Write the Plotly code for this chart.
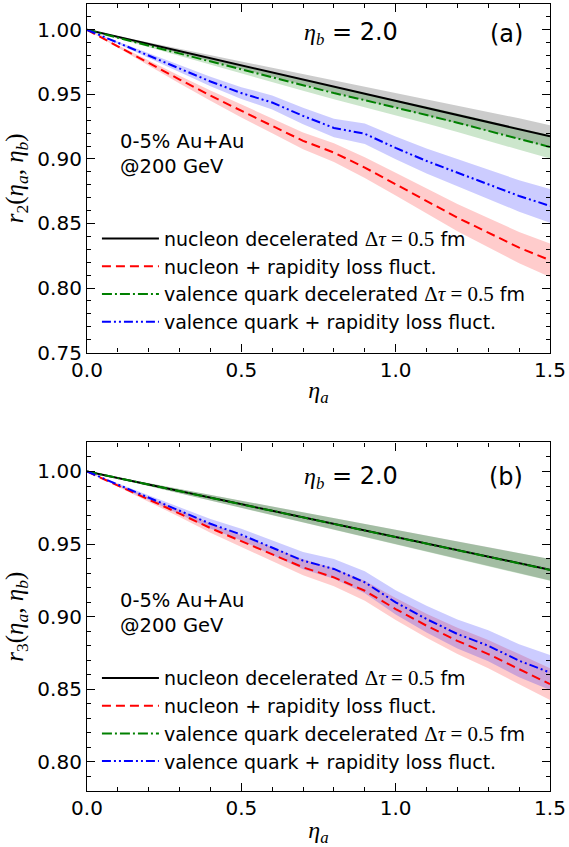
import plotly.graph_objects as go

# pseudorapidity of the reference bin
eta_a = [0.0, 0.1, 0.2, 0.3, 0.4, 0.5, 0.6, 0.7, 0.8, 0.9, 1.0, 1.1, 1.2, 1.3, 1.4, 1.5]

# ---- (a) r2(eta_a, eta_b) ----
r2_nucleon = [1.000, 0.9945, 0.9890, 0.9835, 0.9780, 0.9725, 0.9670, 0.9615, 0.9560, 0.9505, 0.9455, 0.9400, 0.9345, 0.9290, 0.9235, 0.9175]
r2_nucleon_err = [0.0, 0.0006, 0.0012, 0.0017, 0.0023, 0.0029, 0.0035, 0.0040, 0.0046, 0.0052, 0.0058, 0.0063, 0.0069, 0.0075, 0.0080, 0.0086]
r2_nucleon_fluct = [1.000, 0.9870, 0.9740, 0.9615, 0.9490, 0.9370, 0.9256, 0.9140, 0.9049, 0.8933, 0.8804, 0.8674, 0.8545, 0.8429, 0.8313, 0.8215]
r2_nucleon_fluct_err = [0.0, 0.0010, 0.0020, 0.0030, 0.0040, 0.0050, 0.0058, 0.0065, 0.0072, 0.0080, 0.0088, 0.0096, 0.0105, 0.0113, 0.0121, 0.0130]
r2_quark = [1.000, 0.9938, 0.9876, 0.9814, 0.9752, 0.9690, 0.9630, 0.9570, 0.9510, 0.9455, 0.9400, 0.9340, 0.9280, 0.9220, 0.9155, 0.9093]
r2_quark_err = [0.0, 0.0006, 0.0012, 0.0018, 0.0024, 0.0030, 0.0036, 0.0042, 0.0048, 0.0054, 0.0060, 0.0066, 0.0072, 0.0078, 0.0084, 0.0090]
r2_quark_fluct = [1.000, 0.9900, 0.9800, 0.9700, 0.9600, 0.9510, 0.9437, 0.9333, 0.9240, 0.9195, 0.9085, 0.8984, 0.8894, 0.8804, 0.8713, 0.8636]
r2_quark_fluct_err = [0.0, 0.0010, 0.0019, 0.0028, 0.0037, 0.0046, 0.0055, 0.0064, 0.0072, 0.0080, 0.0088, 0.0097, 0.0106, 0.0114, 0.0122, 0.0130]

# ---- (b) r3(eta_a, eta_b) ----
r3_nucleon = [1.000, 0.9955, 0.9910, 0.9865, 0.9820, 0.9775, 0.9730, 0.9685, 0.9640, 0.9595, 0.9550, 0.9505, 0.9460, 0.9415, 0.9370, 0.9324]
r3_nucleon_err = [0.0, 0.0005, 0.0010, 0.0015, 0.0020, 0.0025, 0.0030, 0.0035, 0.0040, 0.0045, 0.0050, 0.0055, 0.0060, 0.0065, 0.0070, 0.0074]
r3_nucleon_fluct = [1.000, 0.9905, 0.9810, 0.9710, 0.9610, 0.9520, 0.9432, 0.9340, 0.9271, 0.9179, 0.9053, 0.8938, 0.8834, 0.8743, 0.8639, 0.8536]
r3_nucleon_fluct_err = [0.0, 0.0008, 0.0016, 0.0024, 0.0032, 0.0040, 0.0048, 0.0055, 0.0062, 0.0069, 0.0076, 0.0083, 0.0090, 0.0097, 0.0104, 0.0110]
r3_quark = [1.000, 0.9954, 0.9909, 0.9864, 0.9819, 0.9774, 0.9729, 0.9684, 0.9639, 0.9594, 0.9549, 0.9504, 0.9459, 0.9414, 0.9369, 0.9322]
r3_quark_err = [0.0, 0.0005, 0.0010, 0.0015, 0.0020, 0.0025, 0.0030, 0.0035, 0.0040, 0.0045, 0.0050, 0.0055, 0.0060, 0.0065, 0.0070, 0.0075]
r3_quark_fluct = [1.000, 0.9910, 0.9820, 0.9730, 0.9640, 0.9565, 0.9478, 0.9386, 0.9329, 0.9237, 0.9099, 0.8984, 0.8881, 0.8800, 0.8697, 0.8616]
r3_quark_fluct_err = [0.0, 0.0008, 0.0016, 0.0024, 0.0032, 0.0040, 0.0050, 0.0060, 0.0068, 0.0076, 0.0084, 0.0092, 0.0100, 0.0107, 0.0114, 0.0120]

MATH = "Liberation Serif"
SANS = "DejaVu Sans"


def m(s, size=None):
    extra = f";font-size:{size}px" if size else ""
    return f'<span style="font-family:{MATH}{extra}">{s}</span>'


dtau = m("Δ<i>τ</i> = 0.5", 21) + " fm"
labels = [
    "nucleon decelerated " + dtau,
    "nucleon + rapidity loss fluct.",
    "valence quark decelerated " + dtau,
    "valence quark + rapidity loss fluct.",
]
line_colors = ["black", "#ff0000", "#008000", "#0000ff"]
band_colors = ["rgba(0,0,0,0.2)", "rgba(255,0,0,0.2)", "rgba(0,128,0,0.2)", "rgba(0,0,255,0.2)"]
dashes = ["solid", "9px,5px", "10px,3px,2px,3px", "9px,3px,2px,3px,2px,3px"]

panels = [
    ("x", "y", "legend",
     [r2_nucleon, r2_nucleon_fluct, r2_quark, r2_quark_fluct],
     [r2_nucleon_err, r2_nucleon_fluct_err, r2_quark_err, r2_quark_fluct_err]),
    ("x2", "y2", "legend2",
     [r3_nucleon, r3_nucleon_fluct, r3_quark, r3_quark_fluct],
     [r3_nucleon_err, r3_nucleon_fluct_err, r3_quark_err, r3_quark_fluct_err]),
]

fig = go.Figure()
for xa, ya, leg, series, errs in panels:
    # uncertainty bands
    for vals, err, fc in zip(series, errs, band_colors):
        lo = [v - e for v, e in zip(vals, err)]
        hi = [v + e for v, e in zip(vals, err)]
        fig.add_trace(go.Scatter(x=eta_a, y=lo, mode="lines", line=dict(width=0),
                                 xaxis=xa, yaxis=ya, showlegend=False, hoverinfo="skip"))
        fig.add_trace(go.Scatter(x=eta_a, y=hi, mode="lines", line=dict(width=0),
                                 fill="tonexty", fillcolor=fc,
                                 xaxis=xa, yaxis=ya, showlegend=False, hoverinfo="skip"))
    # central curves
    for vals, name, lc, dsh in zip(series, labels, line_colors, dashes):
        fig.add_trace(go.Scatter(x=eta_a, y=vals, mode="lines", name=name,
                                 line=dict(color=lc, width=2, dash=dsh),
                                 xaxis=xa, yaxis=ya, legend=leg))

W, H = 569, 847
ML, MR, MT, MB = 87, 16, 3, 56
PW, PH = W - ML - MR, H - MT - MB
top_dom = [(791 - 352) / PH, 1.0]
bot_dom = [0.0, (791 - 442) / PH]

tickfont = dict(family=SANS, size=20, color="black")


def xaxis(anchor, standoff):
    return dict(anchor=anchor, domain=[0, 1], range=[0, 1.5], tick0=0, dtick=0.5,
                tickformat=".1f", ticks="inside", ticklen=8, tickwidth=1.2, tickcolor="black",
                minor=dict(ticks="inside", ticklen=4, tickwidth=1, dtick=0.1, tickcolor="black"),
                showline=True, linecolor="black", linewidth=1.2, mirror="allticks",
                showgrid=False, zeroline=False, tickfont=tickfont, ticklabelstandoff=-1,
                title=dict(text=m("<i>η</i><sub><i>a</i></sub>"), font=dict(size=24, color="black"),
                           standoff=standoff))


def yaxis(anchor, dom, rng, title):
    return dict(anchor=anchor, domain=dom, range=rng, tick0=0, dtick=0.05,
                tickformat=".2f", ticks="inside", ticklen=8, tickwidth=1.2, tickcolor="black",
                minor=dict(ticks="inside", ticklen=4, tickwidth=1, dtick=0.01, tickcolor="black"),
                showline=True, linecolor="black", linewidth=1.2, mirror="allticks",
                showgrid=False, zeroline=False, tickfont=tickfont,
                title=dict(text=title, font=dict(size=25, color="black"), standoff=6))


legend_style = dict(font=dict(family=SANS, size=19, color="black"), bgcolor="rgba(0,0,0,0)",
                    xanchor="left", yanchor="top", itemwidth=57, tracegroupgap=0,
                    traceorder="normal")

fig.update_layout(
    width=W, height=H,
    margin=dict(l=ML, r=MR, t=MT, b=MB),
    paper_bgcolor="white", plot_bgcolor="white",
    font=dict(family=SANS, color="black"),
    xaxis=xaxis("y", 0),
    yaxis=yaxis("x", top_dom, [0.75, 1.02],
                m("<i>r</i><sub>2</sub>(<i>η</i><sub><i>a</i></sub>, <i>η</i><sub><i>b</i></sub>)")),
    xaxis2=xaxis("y2", 6),
    yaxis2=yaxis("x2", bot_dom, [0.78, 1.02],
                 m("<i>r</i><sub>3</sub>(<i>η</i><sub><i>a</i></sub>, <i>η</i><sub><i>b</i></sub>)")),
    legend=dict(x=(97 - ML) / PW, y=(791 - 219) / PH, **legend_style),
    legend2=dict(x=(97 - ML) / PW, y=(791 - 659) / PH, **legend_style),
    showlegend=True,
)

etab = m("<i>η</i><sub><i>b</i></sub>") + " = 2.0"
for xa, ya, tag, ys in [("x", "y", "(a)", (0.914, 0.570)),
                        ("x2", "y2", "(b)", (0.900, 0.512))]:
    xr, yr = f"{xa} domain", f"{ya} domain"
    fig.add_annotation(text=etab, xref=xr, yref=yr, x=0.571, y=ys[0], showarrow=False,
                       font=dict(size=24, family=SANS), xanchor="center", yanchor="middle")
    fig.add_annotation(text=tag, xref=xr, yref=yr, x=0.906, y=ys[0], showarrow=False,
                       font=dict(size=24, family=SANS), xanchor="center", yanchor="middle")
    fig.add_annotation(text="0-5% Au+Au<br>@200 GeV", xref=xr, yref=yr, x=0.066, y=ys[1],
                       showarrow=False, align="left",
                       font=dict(size=19.5, family=SANS), xanchor="left", yanchor="middle")

fig.write_html("out.html")
